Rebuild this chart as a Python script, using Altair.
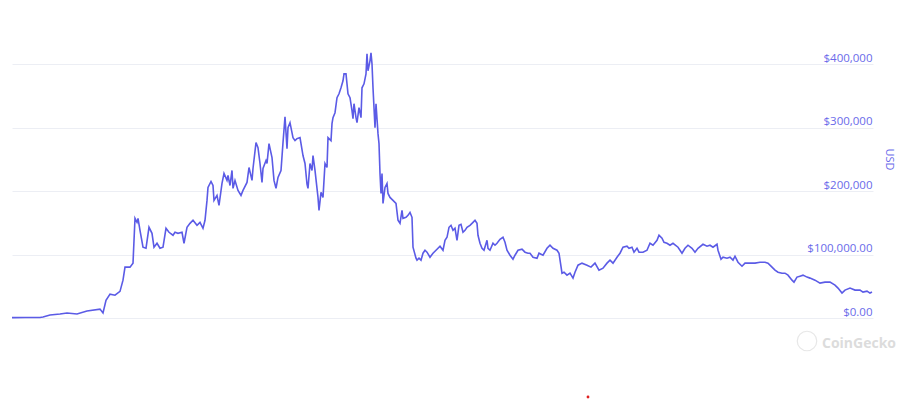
import altair as alt
import pandas as pd

# observation index (1 unit = 3 days from START)
obs = [
    0, 13, 28, 31, 38, 48, 55, 65, 75, 88,
    91, 94, 98, 103, 108, 111, 113, 118, 121, 123,
    125, 126, 128, 131, 134, 137, 140, 142, 145, 148,
    151, 154, 157, 161, 163, 166, 170, 172, 175, 178,
    181, 185, 188, 191, 193, 195, 196, 199, 201, 202,
    205, 207, 210, 212, 215, 216, 218, 220, 221, 223,
    226, 229, 231, 235, 237, 240, 241, 244, 246, 248,
    250, 251, 254, 255, 257, 260, 262, 264, 266, 269,
    271, 273, 275, 276, 278, 281, 283, 285, 288, 291,
    293, 295, 296, 298, 300, 301, 303, 306, 307, 309,
    311, 313, 315, 316, 319, 320, 321, 323, 325, 327,
    329, 331, 332, 334, 335, 336, 338, 340, 341, 342,
    344, 345, 347, 349, 350, 352, 354, 355, 356, 358,
    359, 360, 361, 363, 364, 366, 367, 368, 369, 370,
    371, 373, 375, 376, 378, 381, 384, 386, 388, 390,
    391, 394, 396, 398, 400, 401, 404, 405, 407, 409,
    411, 413, 415, 418, 421, 425, 428, 431, 433, 435,
    437, 439, 441, 443, 445, 447, 449, 451, 453, 455,
    458, 461, 463, 465, 466, 468, 470, 472, 475, 476,
    478, 481, 483, 485, 488, 491, 493, 495, 498, 501,
    503, 506, 510, 513, 516, 518, 521, 525, 527, 531,
    535, 538, 541, 545, 547, 550, 552, 555, 558, 561,
    563, 566, 570, 575, 579, 583, 587, 591, 595, 598,
    601, 605, 608, 611, 615, 617, 620, 622, 625, 627,
    631, 635, 638, 641, 645, 647, 650, 652, 655, 658,
    661, 666, 670, 673, 676, 680, 683, 686, 691, 695,
    698, 701, 705, 706, 709, 711, 715, 718, 721, 723,
    726, 730, 733, 738, 743, 748, 753, 756, 760, 763,
    766, 770, 773, 776, 780, 782, 785, 788, 791, 795,
    798, 803, 808, 813, 818, 823, 826, 830, 833, 838,
    843, 848, 851, 855, 858, 860,
]

price_usd = [
    600, 700, 900, 1500, 4700, 6300, 7900, 6300, 11000, 14000,
    7900, 28000, 37700, 36000, 42000, 59700, 80200, 80200, 86500, 157200,
    150900, 157200, 138300, 111600, 110000, 143100, 133600, 111600, 117900, 110000,
    111600, 141500, 135200, 130500, 135200, 133600, 135200, 117900, 143100, 149300,
    154100, 146200, 150900, 141500, 154100, 185500, 206000, 215400, 209000, 185500,
    193400, 177600, 212200, 228000, 217000, 224800, 209000, 232700, 204400, 217000,
    201200, 193400, 201200, 213800, 237400, 217000, 235800, 276700, 268800, 243700,
    213800, 235800, 248400, 243700, 275100, 253100, 217000, 204400, 221700, 232700,
    276700, 317500, 267200, 300300, 308100, 284500, 279800, 283000, 284500, 256200,
    243700, 211000, 204400, 243700, 232700, 256200, 232700, 190200, 169800, 198100,
    190200, 243700, 237400, 284500, 279800, 306500, 316000, 323800, 347400, 353700,
    363100, 374100, 385100, 385100, 369400, 353700, 347400, 327000, 314400, 338000,
    316000, 308100, 331700, 316000, 363100, 369400, 385100, 416600, 389900, 405600,
    418200, 400900, 363100, 300300, 338000, 290800, 275100, 227900, 196500, 227900,
    180800, 205900, 212200, 196500, 190200, 185500, 180800, 154100, 149300, 169800,
    157200, 158800, 161900, 166600, 158800, 111600, 94300, 91200, 94300, 91200,
    102200, 106900, 103800, 95900, 102200, 108500, 113200, 106900, 122600, 127300,
    143100, 146200, 138300, 141500, 122600, 146200, 147800, 135200, 138300, 143100,
    146200, 150900, 154100, 149300, 130500, 117900, 110000, 106900, 122600, 110000,
    106900, 117900, 114800, 117900, 124200, 127300, 119500, 106900, 99000, 92700,
    99000, 106900, 108500, 103800, 102200, 102200, 95900, 94300, 102200, 99000,
    110000, 114800, 110000, 106900, 102200, 70700, 72300, 67600, 70700, 62900,
    72300, 83300, 86500, 83300, 80200, 86500, 75500, 78600, 86500, 91200,
    86500, 95900, 102200, 111600, 113200, 110000, 111600, 103800, 110000, 103800,
    103800, 106900, 117900, 114800, 122600, 130500, 125800, 119500, 117900, 114800,
    117900, 111600, 102200, 110000, 114800, 110000, 103800, 110000, 116300, 113200,
    114800, 111600, 116300, 106900, 92700, 95900, 94300, 95900, 91200, 97500,
    88000, 81700, 86500, 86500, 86500, 88000, 88000, 86500, 80200, 75500,
    72300, 70700, 70700, 67600, 59700, 56600, 64500, 66000, 67600, 64500,
    62900, 59700, 55000, 56600, 56600, 51900, 47200, 39300, 44000, 47200,
    44000, 44000, 40900, 42400, 39300, 40900,
]

y_ticks = [0, 100000, 200000, 300000, 400000, 500000]
START = "2017-06-01"
STEP_DAYS = 3
LAST_OBS = 861

start = pd.Timestamp(START)
df = pd.DataFrame({
    "date": start + pd.to_timedelta([o * STEP_DAYS for o in obs], unit="D"),
    "price": price_usd,
})
dom = [int(start.timestamp() * 1000),
       int((start + pd.Timedelta(days=LAST_OBS * STEP_DAYS)).timestamp() * 1000)]

LINE = "#5b5be6"
TXT = "#6a6aea"

label_expr = ("datum.value == 0 ? '$0.00' : datum.value == 100000 ? '$100,000.00' : "
              "datum.value >= 500000 ? '' : '$' + format(datum.value, ',')")

line = alt.Chart(df).mark_line(color=LINE, strokeWidth=1.6).encode(
    x=alt.X("date:T", axis=None, scale=alt.Scale(domain=dom)),
    y=alt.Y("price:Q",
            scale=alt.Scale(domain=[0, 500000], nice=False, zero=True),
            axis=alt.Axis(orient="right", values=y_ticks, labelExpr=label_expr,
                          title="USD", titleAngle=90, titleX=15, titleY=158,
                          titleAlign="center", titleBaseline="middle",
                          titleColor=TXT, titleFont="Open Sans", titleFontSize=11,
                          titleFontWeight="normal",
                          labelColor=TXT, labelFont="Open Sans", labelFontSize=11.5,
                          labelAlign="right", labelBaseline="alphabetic",
                          labelPadding=-1, labelOffset=-3,
                          ticks=False, domain=False,
                          grid=True, gridColor="#eceef4", gridWidth=1)),
)

one = pd.DataFrame({"k": [0]})
logo = alt.Chart(one).mark_point(shape="circle", size=380, filled=False,
                                 color="#dedede", strokeWidth=1.2).encode(
    x=alt.value(795), y=alt.value(340))
logo_txt = alt.Chart(one).mark_text(text="CoinGecko", color="#dcdcdc", fontSize=14,
                                    fontWeight="bold", font="Open Sans", align="left",
                                    baseline="middle").encode(
    x=alt.value(810), y=alt.value(343))
dot = alt.Chart(one).mark_point(shape="circle", size=8, filled=True, color="#e02020",
                                opacity=1).encode(x=alt.value(576), y=alt.value(396))

chart = alt.layer(line, logo, logo_txt, dot).properties(
    width=861, height=317,
    padding={"left": 0, "top": -7, "right": 0, "bottom": 0},
).configure_view(stroke=None)

chart.save("out.html", embed_options={"renderer": "svg", "actions": False})
